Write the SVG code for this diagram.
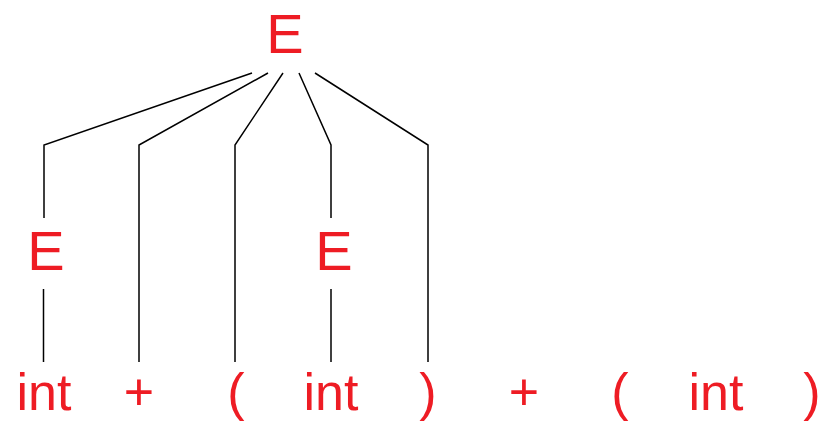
<svg xmlns="http://www.w3.org/2000/svg" width="825" height="422" viewBox="0 0 825 422">
<style>
.t{font-family:"Liberation Sans",Arial,sans-serif;font-size:52px;fill:#ee1c24;text-anchor:middle}
.e{font-size:56px}
.c{stroke:#000;stroke-width:1.5;fill:none}
</style>
<rect width="825" height="422" fill="#fff"/>
<g id="connectors">
<polyline class="c" points="252,73 44,145 44,218"/>
<polyline class="c" points="268,73 139,145 139,362"/>
<polyline class="c" points="283,73 235,145 235,362"/>
<polyline class="c" points="299,73 331,145 331,218"/>
<polyline class="c" points="315,73 428,145 428,362"/>
<line class="c" x1="43.5" y1="289" x2="43.5" y2="362"/>
<line class="c" x1="331" y1="289" x2="331" y2="362"/>
</g>
<g id="E_root"><text class="t e" x="285" y="53">E</text></g>
<g id="E_left"><text class="t e" x="46" y="270">E</text></g>
<g id="E_mid"><text class="t e" x="334" y="270">E</text></g>
<g id="int1"><text class="t" x="44" y="410">int</text></g>
<g id="plus1"><text class="t" x="139" y="410">+</text></g>
<g id="lpar1"><text class="t" x="236" y="410">(</text></g>
<g id="int2"><text class="t" x="331" y="410">int</text></g>
<g id="rpar1"><text class="t" x="428" y="410">)</text></g>
<g id="plus2"><text class="t" x="524" y="410">+</text></g>
<g id="lpar2"><text class="t" x="620" y="410">(</text></g>
<g id="int3"><text class="t" x="716" y="410">int</text></g>
<g id="rpar2"><text class="t" x="812" y="410">)</text></g>
</svg>
